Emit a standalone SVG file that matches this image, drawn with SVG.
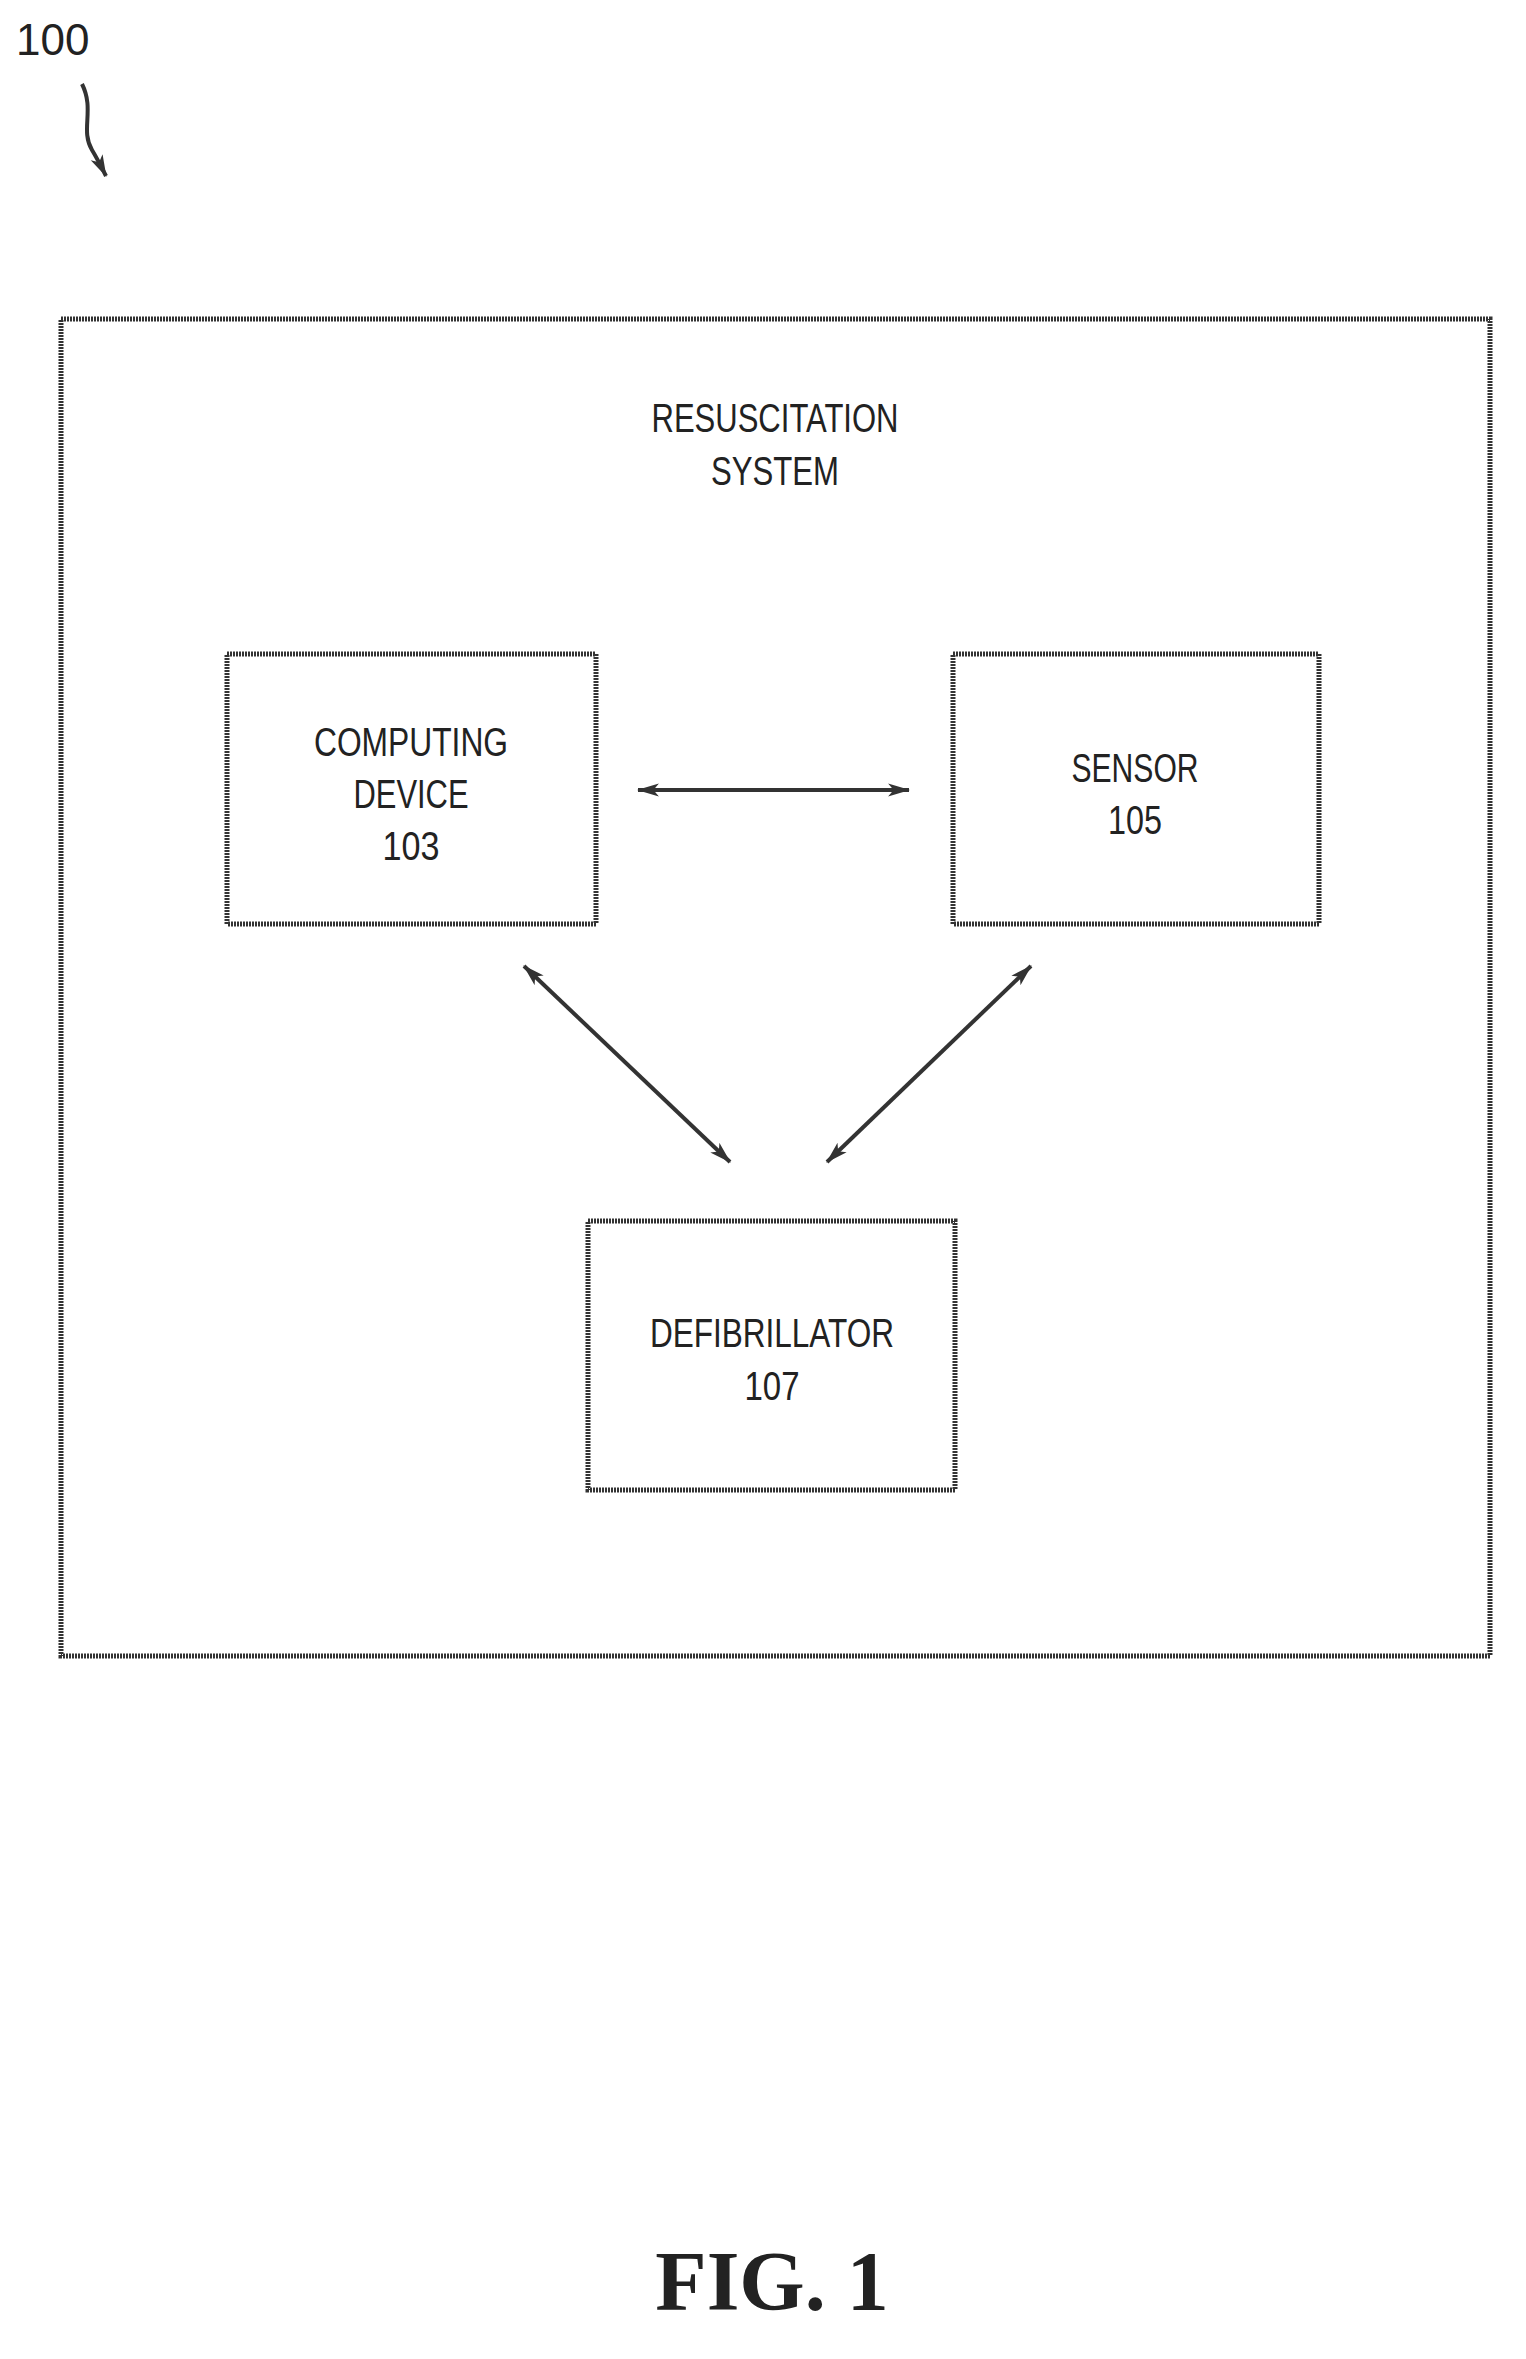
<svg xmlns="http://www.w3.org/2000/svg" width="1526" height="2359" viewBox="0 0 1526 2359">
<style>
.box{fill:none;stroke:#333;stroke-width:5;stroke-dasharray:2 1}
.t{font-family:"Liberation Sans",sans-serif;font-size:40px;fill:#222;text-anchor:middle}
.c{stroke:#333;stroke-width:4;fill:none}
</style>
<defs>
<marker id="a" viewBox="0 0 20 12" refX="19" refY="6" markerWidth="22" markerHeight="14" markerUnits="userSpaceOnUse" orient="auto-start-reverse"><path d="M0,0 L20,6 L0,12 L5,6 Z" fill="#333"/></marker>
</defs>
<rect width="1526" height="2359" fill="#fff"/>
<g id="label100"><text x="16" y="55" font-family="Liberation Sans,sans-serif" font-size="44" fill="#222">100</text>
<path class="c" d="M82,84 C95,110 80,130 92,150 C98,160 102,168 106,176" marker-end="url(#a)"/></g>
<g id="system"><rect class="box" x="61" y="319" width="1429" height="1337"/>
<text class="t" x="775" y="432" textLength="247" lengthAdjust="spacingAndGlyphs">RESUSCITATION</text>
<text class="t" x="775" y="485" textLength="128" lengthAdjust="spacingAndGlyphs">SYSTEM</text></g>
<g id="computing"><rect class="box" x="227" y="654" width="369" height="270"/>
<text class="t" x="411" y="756" textLength="194" lengthAdjust="spacingAndGlyphs">COMPUTING</text>
<text class="t" x="411" y="808" textLength="115" lengthAdjust="spacingAndGlyphs">DEVICE</text>
<text class="t" x="411" y="860" textLength="57" lengthAdjust="spacingAndGlyphs">103</text></g>
<g id="sensor"><rect class="box" x="953" y="654" width="366" height="270"/>
<text class="t" x="1135" y="782" textLength="127" lengthAdjust="spacingAndGlyphs">SENSOR</text>
<text class="t" x="1135" y="834" textLength="54" lengthAdjust="spacingAndGlyphs">105</text></g>
<g id="defibrillator"><rect class="box" x="588" y="1221" width="367" height="269"/>
<text class="t" x="772" y="1347" textLength="244" lengthAdjust="spacingAndGlyphs">DEFIBRILLATOR</text>
<text class="t" x="772" y="1400" textLength="55" lengthAdjust="spacingAndGlyphs">107</text></g>
<g id="connectors">
<line class="c" x1="638" y1="790" x2="909" y2="790" marker-start="url(#a)" marker-end="url(#a)"/>
<line class="c" x1="524" y1="966" x2="730" y2="1162" marker-start="url(#a)" marker-end="url(#a)"/>
<line class="c" x1="1031" y1="966" x2="827" y2="1162" marker-start="url(#a)" marker-end="url(#a)"/>
</g>
<text x="772" y="2310" font-family="Liberation Serif,serif" font-size="84" font-weight="bold" fill="#222" text-anchor="middle">FIG. 1</text>
</svg>
